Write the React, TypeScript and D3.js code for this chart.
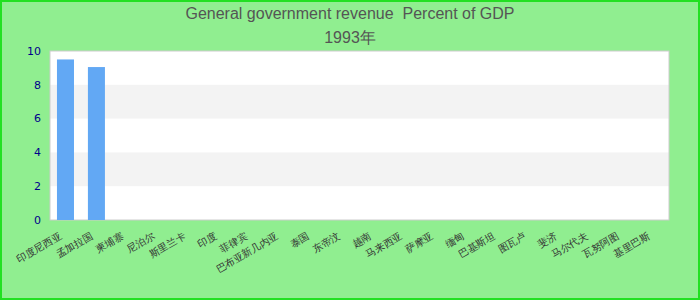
import { useEffect, useRef } from 'react';
import * as d3 from 'd3';

const titleText = 'General government revenue  Percent of GDP';
const subtitleText = '1993年';
const countries = [
  '印度尼西亚', '孟加拉国', '柬埔寨', '尼泊尔', '斯里兰卡', '印度', '菲律宾', '巴布亚新几内亚',
  '泰国', '东帝汶', '越南', '马来西亚', '萨摩亚', '缅甸', '巴基斯坦', '图瓦卢', '斐济',
  '马尔代夫', '瓦努阿图', '基里巴斯',
];
const revenue = [9.5, 9.05, null, null, null, null, null, null, null, null, null, null, null, null, null, null, null, null, null, null];
const yTicks = [0, 2, 4, 6, 8, 10];

export default function App() {
  const ref = useRef<SVGSVGElement>(null);
  useEffect(() => {
    if (!ref.current) return;
    const W = 700, H = 300;
    const margin = { top: 51, right: 31, bottom: 80, left: 50 };
    const width = W - margin.left - margin.right;
    const height = H - margin.top - margin.bottom;
    const svg = d3.select(ref.current);
    svg.selectAll('*').remove();
    svg.append('rect').attr('x', 1).attr('y', 1).attr('width', W - 2).attr('height', H - 2)
      .attr('fill', '#90ee90').attr('stroke', '#22e022').attr('stroke-width', 2);
    svg.append('text').attr('x', W / 2).attr('y', 19).attr('text-anchor', 'middle')
      .style('font-family', 'Liberation Sans, Arial, sans-serif').style('font-size', '16px').style('fill', '#555')
      .style('white-space', 'pre')
      .text(titleText);
    svg.append('text').attr('x', W / 2).attr('y', 43).attr('text-anchor', 'middle')
      .style('font-family', 'Liberation Sans, Arial, sans-serif').style('font-size', '16px').style('fill', '#555')
      .text(subtitleText);

    const g = svg.append('g').attr('transform', `translate(${margin.left},${margin.top})`);
    const x = d3.scaleBand().domain(countries).range([0, width]).paddingInner(0.45).paddingOuter(0.225);
    const y = d3.scaleLinear().domain([0, 10]).range([height, 0]);

    g.append('rect').attr('width', width).attr('height', height).attr('fill', '#fff');
    // alternating bands
    g.selectAll('rect.band').data(yTicks.slice(0, -1).filter((_, i) => i % 2 === 1)).enter().append('rect')
      .attr('class', 'band').attr('x', 0).attr('width', width)
      .attr('y', d => y(d + 2)).attr('height', d => y(d) - y(d + 2)).attr('fill', '#f3f3f3');
    g.append('rect').attr('width', width).attr('height', height).attr('fill', 'none')
      .attr('stroke', '#cccccc').attr('stroke-width', 1);

    const bars = countries.map((c, i) => ({ c, v: revenue[i] })).filter(d => d.v != null);
    g.selectAll('rect.bar').data(bars).enter().append('rect')
      .attr('class', 'bar').attr('x', d => x(d.c)!).attr('width', x.bandwidth())
      .attr('y', d => y(d.v as number)).attr('height', d => height - y(d.v as number)).attr('fill', '#62a8f4');

    g.selectAll('text.ytick').data(yTicks).enter().append('text')
      .attr('class', 'ytick').attr('x', -9).attr('y', d => y(d)).attr('dy', '0.35em').attr('text-anchor', 'end')
      .style('font-family', 'DejaVu Sans, sans-serif').style('font-size', '11px').style('fill', '#00008b')
      .text(d => d);

    g.selectAll('text.xtick').data(countries).enter().append('text')
      .attr('class', 'xtick')
      .attr('transform', d => `translate(${x(d)! + x.bandwidth() / 2 - 3},${height + 18}) rotate(-30)`)
      .attr('text-anchor', 'end')
      .style('font-family', 'Liberation Sans, Arial, sans-serif').style('font-size', '10px').style('fill', '#333')
      .text(d => d);
  }, []);
  return (
    <>
      <style>{'body{margin:0}'}</style>
      <svg ref={ref} width={700} height={300} style={{ display: 'block' }} />
    </>
  );
}
